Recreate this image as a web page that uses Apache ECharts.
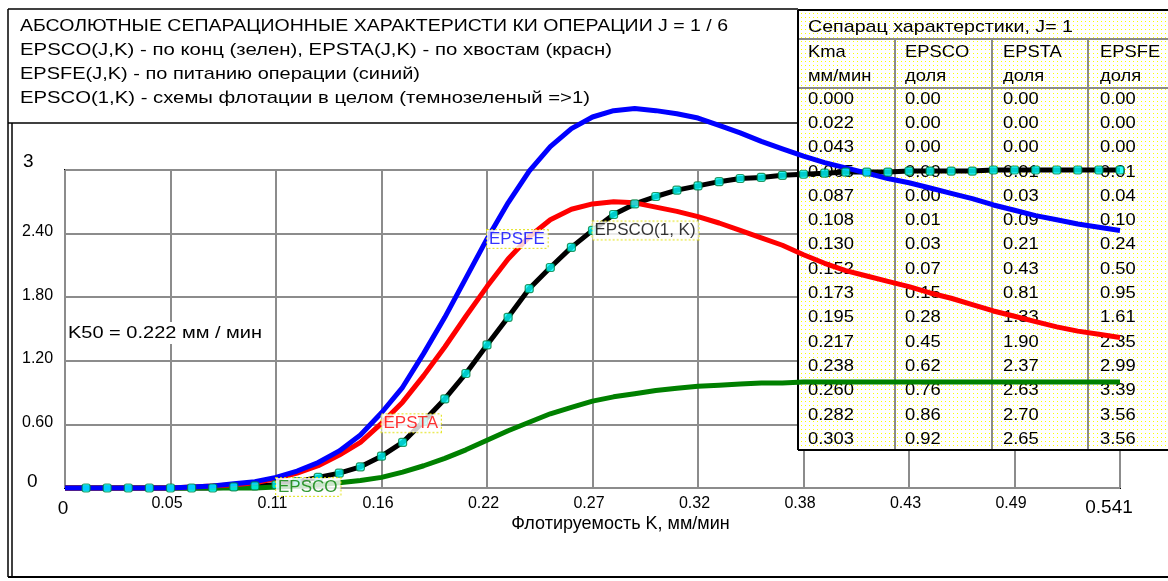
<!DOCTYPE html>
<html>
<head>
<meta charset="utf-8">
<script src="https://cdn.jsdelivr.net/npm/echarts@6/dist/echarts.min.js"></script>
<style>
  html, body { margin: 0; padding: 0; background: #fff; }
  #chart { width: 1168px; height: 581px; }
</style>
</head>
<body>
<div id="chart"></div>
<script>
// Flotation-rate grid: 51 evenly spaced samples from 0 to K_MAX, mm/min
const K_MAX = 0.5415;
const STEPS = 50;

// EPSCO(J,K): concentrate (green)
const epsco = [
  0, 0, 0, 0, 0, 0, 0, 0, 0, 0,
  0.01, 0.02, 0.03, 0.05, 0.07, 0.10, 0.15, 0.21, 0.28, 0.36,
  0.45, 0.54, 0.62, 0.70, 0.76, 0.82, 0.86, 0.89, 0.92, 0.94,
  0.96, 0.97, 0.98, 0.99, 0.99, 1.00, 1.00, 1.00, 1.00, 1.00,
  1.00, 1.00, 1.00, 1.00, 1.00, 1.00, 1.00, 1.00, 1.00, 1.00,
  1.00
];
// EPSTA(J,K): tailings (red)
const epsta = [
  0, 0, 0, 0, 0, 0, 0.01, 0.02, 0.03, 0.05,
  0.09, 0.14, 0.21, 0.31, 0.43, 0.61, 0.81, 1.06, 1.33, 1.62,
  1.90, 2.16, 2.37, 2.53, 2.63, 2.68, 2.70, 2.69, 2.65, 2.61,
  2.56, 2.50, 2.43, 2.36, 2.29, 2.20, 2.12, 2.05, 2.00, 1.95,
  1.90, 1.84, 1.79, 1.73, 1.67, 1.62, 1.57, 1.52, 1.48, 1.45,
  1.42
];
// EPSFE(J,K): operation feed (blue)
const epsfe = [
  0, 0, 0, 0, 0, 0, 0.01, 0.02, 0.04, 0.06,
  0.10, 0.16, 0.24, 0.35, 0.50, 0.71, 0.95, 1.27, 1.61, 1.98,
  2.35, 2.69, 2.99, 3.22, 3.39, 3.50, 3.56, 3.58, 3.56, 3.53,
  3.49, 3.42, 3.35, 3.27, 3.20, 3.13, 3.07, 3.02, 2.97, 2.92,
  2.88, 2.83, 2.78, 2.73, 2.67, 2.62, 2.57, 2.53, 2.49, 2.46,
  2.43
];
// EPSCO(1,K): whole flotation circuit (black with markers)
const epscoTotal = [
  0, 0, 0, 0, 0, 0, 0, 0, 0.01, 0.02,
  0.03, 0.06, 0.10, 0.14, 0.20, 0.30, 0.43, 0.63, 0.84, 1.08,
  1.35, 1.61, 1.88, 2.08, 2.27, 2.43, 2.58, 2.68, 2.75, 2.81,
  2.85, 2.89, 2.92, 2.93, 2.95, 2.96, 2.97, 2.98, 2.98, 2.98,
  2.99, 2.99, 2.99, 2.99, 3.00, 3.00, 3.00, 3.00, 3.00, 3.00,
  3.00
];

const xTickLabels = ['0', '0.05', '0.11', '0.16', '0.22', '0.27', '0.32', '0.38', '0.43', '0.49', '0.541'];
const yTickLabels = ['0', '0.60', '1.20', '1.80', '2.40', '3'];

const titleLines = [
  'АБСОЛЮТНЫЕ СЕПАРАЦИОННЫЕ ХАРАКТЕРИСТИ КИ ОПЕРАЦИИ J = 1 / 6',
  'EPSCO(J,K) - по конц (зелен), EPSTA(J,K) - по хвостам (красн)',
  'EPSFE(J,K) - по питанию операции (синий)',
  'EPSCO(1,K) - схемы флотации в целом (темнозеленый =>1)'
];
const xAxisName = 'Флотируемость K, мм/мин';
const k50Text = 'K50 = 0.222 мм / мин';
const tableTitle = 'Сепарац характерстики, J= 1';
const tableHeader = [['Kma', 'мм/мин'], ['EPSCO', 'доля'], ['EPSTA', 'доля'], ['EPSFE', 'доля']];
const TABLE_ROWS = 15;   // every second grid sample, from K = 0

// Curve labels: which sample of which curve carries the name
const curveLabels = [
  { name: 'EPSCO', curve: 'epsco', at: 10 },
  { name: 'EPSTA', curve: 'epsta', at: 15 },
  { name: 'EPSFE', curve: 'epsfe', at: 20 },
  { name: 'EPSCO(1, K)', curve: 'epscoTotal', at: 25 }
];

// ---------------------------------------------------------------
const X_STEP = K_MAX / 10;
const Y_STEP = 0.6;
const kGrid = epsco.map((_, i) => i * K_MAX / STEPS);
const pts = arr => arr.map((v, i) => [kGrid[i], v]);
const curves = { epsco, epsta, epsfe, epscoTotal };
const colors = { epsco: '#008000', epsta: '#ff0000', epsfe: '#0000ff', epscoTotal: '#000000' };
const FONT = '"Liberation Sans", Arial, sans-serif';

const measureCtx = document.createElement('canvas').getContext('2d');
function textWidth(str, size) {
  measureCtx.font = size + 'px ' + FONT;
  return measureCtx.measureText(str).width;
}
// Text element stretched horizontally to a given width
function fitText(str, x, y, size, width, fill, extra) {
  const sx = width / textWidth(str, size);
  return Object.assign({
    type: 'text', x: x, y: y, scaleX: sx, z: 3, silent: true,
    style: { text: str, fontSize: size, fontFamily: FONT, fill: fill || '#000', align: 'left', verticalAlign: 'middle' }
  }, extra || {});
}
function hLine(x1, x2, y, color, w, z) {
  return { type: 'line', z: z || 1, silent: true, shape: { x1: x1, y1: y, x2: x2, y2: y }, style: { stroke: color, lineWidth: w } };
}
function vLine(x, y1, y2, color, w, z) {
  return { type: 'line', z: z || 1, silent: true, shape: { x1: x, y1: y1, x2: x, y2: y2 }, style: { stroke: color, lineWidth: w } };
}

// yellow dotted background of the table
const dots = document.createElement('canvas');
dots.width = 4; dots.height = 4;
const dctx = dots.getContext('2d');
dctx.fillStyle = '#ffffff'; dctx.fillRect(0, 0, 4, 4);
dctx.fillStyle = '#ffff00'; dctx.fillRect(1, 1, 1, 1);

const graphics = [];
// panel frames
graphics.push(hLine(8, 798, 9, '#000', 1.5));
graphics.push(hLine(8, 798, 123, '#000', 1.5));
graphics.push(hLine(8, 1168, 577, '#000', 2));
graphics.push(vLine(8, 9, 577, '#000', 1.5));
graphics.push(vLine(12, 123, 577, '#000', 1.5));

// heading
const titleWidths = [708, 592, 400, 570];
const titleY = [26, 50, 74, 98];
titleLines.forEach((t, i) => graphics.push(fitText(t, 20, titleY[i], 17, titleWidths[i])));

// K50 note
graphics.push(fitText(k50Text, 68, 333, 17, 194, '#000', {
  z: 2
}));
graphics.push({ type: 'rect', z: 1, silent: true, shape: { x: 66, y: 322, width: 200, height: 22 }, style: { fill: '#fff' } });

// table
const TX = 798, TY = 10, TB = 450, TR = 1170;
const colX = [798, 895, 992, 1088];
const colText = [808, 905, 1003, 1100];
graphics.push({ type: 'rect', z: 1, silent: true, shape: { x: TX, y: TY, width: TR - TX, height: TB - TY },
  style: { fill: { image: dots, repeat: 'repeat' } } });
graphics.push(hLine(TX, TR, 39, '#8a8a8a', 2));
graphics.push(hLine(TX, TR, 88, '#8a8a8a', 2));
colX.slice(1).forEach(x => graphics.push(vLine(x, 39, TB, '#8a8a8a', 2)));
graphics.push(hLine(TX, TR, TY, '#000', 2));
graphics.push(hLine(TX, TR, TB, '#000', 2));
graphics.push(vLine(TX, TY, TB, '#000', 2));

const TSIZE = 17, TSCALE = 1.08;
function cell(str, x, y) {
  return { type: 'text', x: x, y: y, scaleX: TSCALE, z: 2, silent: true,
    style: { text: str, fontSize: TSIZE, fontFamily: FONT, fill: '#000', align: 'left', verticalAlign: 'middle' } };
}
graphics.push(fitText(tableTitle, 808, 27, TSIZE, 265, '#000', { z: 2 }));
tableHeader.forEach((h, c) => {
  graphics.push(cell(h[0], colText[c], 52));
  graphics.push(cell(h[1], colText[c], 76));
});
for (let r = 0; r < TABLE_ROWS; r++) {
  const i = r * 2;
  const y = 99 + r * 24.3;
  graphics.push(cell(kGrid[i].toFixed(3), colText[0], y));
  graphics.push(cell(epsco[i].toFixed(2), colText[1], y));
  graphics.push(cell(epsta[i].toFixed(2), colText[2], y));
  graphics.push(cell(epsfe[i].toFixed(2), colText[3], y));
}

// ---------------------------------------------------------------
function lineSeries(key, z) {
  return {
    type: 'line', name: key, data: pts(curves[key]), z: z, symbol: 'none', clip: false, silent: true,
    lineStyle: { color: colors[key], width: 5 }, emphasis: { disabled: true }
  };
}

const labelData = curveLabels.map(l => ({
  value: [kGrid[l.at], curves[l.curve][l.at]],
  name: l.name,
  label: { color: colors[l.curve] }
}));

const option = {
  animation: false,
  backgroundColor: '#ffffff',
  textStyle: { fontFamily: FONT },
  grid: { left: 65, top: 170, width: 1055, height: 318, show: true, borderColor: '#000', borderWidth: 2, backgroundColor: 'transparent' },
  xAxis: {
    type: 'value', min: 0, max: K_MAX, interval: X_STEP,
    axisLine: { show: false }, axisTick: { show: false },
    splitLine: { show: true, lineStyle: { color: '#8c8c8c', width: 2 } },
    axisLabel: {
      margin: 8, color: '#000', fontFamily: FONT,
      formatter: v => {
        const i = Math.round(v / X_STEP);
        const s = xTickLabels[i];
        if (i === 0) return '{a|' + s + '}';
        if (i === xTickLabels.length - 1) return '{b|' + s + '}';
        return '{n|' + s + '}';
      },
      rich: {
        n: { fontSize: 16, padding: [0, 7, 0, 0] },
        a: { fontSize: 19, padding: [3, 4, 0, 0] },
        b: { fontSize: 19, padding: [2, 22, 0, 0] }
      }
    },
    name: xAxisName, nameLocation: 'middle', nameGap: 27, nameMoveOverlap: false,
    nameTextStyle: { fontSize: 18, color: '#000', fontFamily: FONT, padding: [0, 0, 0, 56] }
  },
  yAxis: {
    type: 'value', min: 0, max: 3, interval: Y_STEP,
    axisLine: { show: false }, axisTick: { show: false },
    splitLine: { show: true, lineStyle: { color: '#8c8c8c', width: 2 } },
    axisLabel: {
      align: 'left', margin: 43, color: '#000', fontFamily: FONT,
      formatter: v => {
        const i = Math.round(v / Y_STEP);
        const s = yTickLabels[i];
        if (i === 0) return '{a|' + s + '}';
        if (i === yTickLabels.length - 1) return '{b|' + s + '}';
        return '{n|' + s + '}';
      },
      rich: {
        n: { fontSize: 16, padding: [0, 0, 4, 0] },
        a: { fontSize: 19, padding: [0, 0, 12, 5] },
        b: { fontSize: 19, padding: [0, 0, 16, 1] }
      }
    }
  },
  graphic: { elements: graphics },
  series: [
    lineSeries('epscoTotal', 2),
    lineSeries('epsco', 3),
    lineSeries('epsta', 4),
    lineSeries('epsfe', 5),
    {
      type: 'scatter', name: 'markers', z: 6, clip: false, silent: true,
      data: pts(epscoTotal).slice(1),
      symbol: 'roundRect', symbolSize: 8,
      itemStyle: { color: '#00ffff', borderColor: '#008040', borderWidth: 1.2 },
      emphasis: { disabled: true }
    },
    {
      type: 'scatter', name: 'labels', z: 10, clip: false, silent: true,
      data: labelData, symbolSize: 0,
      label: {
        show: true, position: 'right', distance: 0,
        formatter: p => p.name,
        fontSize: 17, fontFamily: FONT,
        backgroundColor: '#ffffff', borderColor: '#e0e000', borderType: 'dotted', borderWidth: 1,
        padding: [1, 3, 0, 2]
      },
      emphasis: { disabled: true }
    }
  ]
};

const chart = echarts.init(document.getElementById('chart'), null, { renderer: 'canvas' });
chart.setOption(option);
</script>
</body>
</html>
